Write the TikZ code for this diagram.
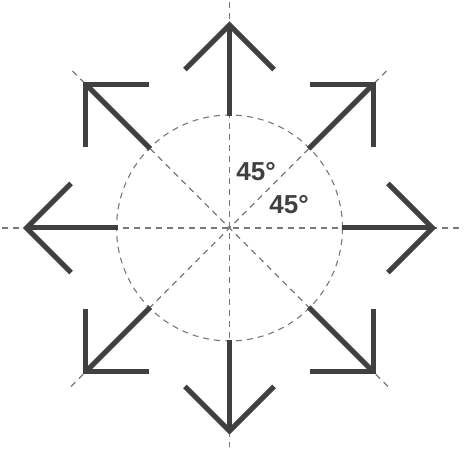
\documentclass[tikz,border=0pt]{standalone}
\usepackage{fontspec}
\setmainfont{Liberation Sans}
\usetikzlibrary{calc}
\definecolor{arrowgray}{RGB}{64,64,64}
\definecolor{guidegray}{RGB}{120,120,120}
\tikzset{
  guide/.style={draw=guidegray, line width=1.1pt, dash pattern=on 6pt off 5pt},
  shaft/.style={draw=arrowgray, line width=5pt, line cap=butt},
  head/.style={draw=arrowgray, line width=5pt, line cap=butt, line join=miter},
  anglelabel/.style={font=\fontsize{26}{28}\selectfont\bfseries, text=arrowgray, inner sep=0pt}
}
\begin{document}
\begin{tikzpicture}[x=1pt,y=-1pt]
\useasboundingbox (0,0) rectangle (464,449);
\coordinate (c) at (229.5,228);
% guide lines
\coordinate (hl) at (2,228);
\coordinate (hr) at (462,228);
\coordinate (vt) at (229.5,2);
\coordinate (vb) at (229.5,447);
\draw[guide] (hl) -- (hr);
\draw[guide] (vt) -- (vb);
\draw[guide] ($(c)+(45:224)$) -- ($(c)+(225:224)$);
\draw[guide] ($(c)+(135:224)$) -- ($(c)+(315:224)$);
\draw[guide] (c) circle[radius=113];
% arrows
\foreach \a in {0,45,...,315}{
  \coordinate (s\a) at ($(c)+(\a:112)$);
  \coordinate (t\a) at ($(c)+(\a:203)$);
  \coordinate (w\a a) at ($(t\a)+(\a+135:63)$);
  \coordinate (w\a b) at ($(t\a)+(\a-135:63)$);
  \draw[shaft] (s\a) -- (t\a);
  \draw[head] (w\a a) -- (t\a) -- (w\a b);
}
\node[anglelabel] (l1) at (256,172) {45°};
\node[anglelabel] (l2) at (289,205) {45°};
\end{tikzpicture}
\end{document}
